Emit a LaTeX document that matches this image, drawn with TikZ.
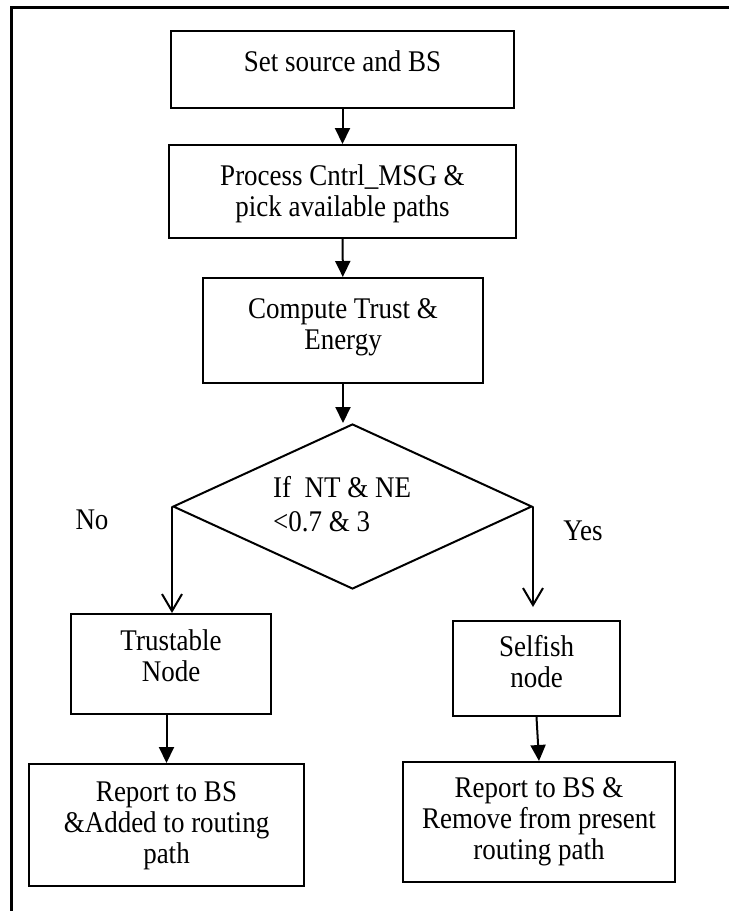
\documentclass[tikz,border=0pt]{standalone}
\usepackage{fontspec}
\setmainfont{Liberation Serif}[FakeStretch=0.9]
\usetikzlibrary{shapes.geometric,arrows.meta}
\begin{document}
\begin{tikzpicture}[x=1pt,y=-1pt,
    every node/.style={font=\fontsize{30pt}{31pt}\selectfont},
    box/.style 2 args={draw,line width=2pt,align=center,inner sep=0pt,text height=#1,text depth=#2},
    flow/.style={line width=2pt,-{Triangle[length=16pt,width=15pt]}},
    branch/.style={line width=2pt,-{Straight Barb[length=17pt,width=20pt]}}]
  \useasboundingbox (0,0) rectangle (729,911);
  % Frame
  \draw[line width=3pt] (11,911) -- (11,7) -- (729,7);
  % Steps
  \node[box={20pt}{17pt},minimum width=343pt,minimum height=77pt] (set) at (342.5,69.5) {Set source and BS};
  \node[box={51pt}{2pt},minimum width=347pt,minimum height=93pt] (proc) at (342.5,191.5) {Process Cntrl\_MSG \&\\pick available paths};
  \node[box={51pt}{13pt},minimum width=280pt,minimum height=105pt] (comp) at (343,330.5) {Compute Trust \&\\Energy};
  % Decision
  \node[draw,diamond,aspect=2.2,line width=2pt,inner sep=0pt,minimum width=359pt,minimum height=165pt] (dec) at (352.5,506.5) {};
  \node[anchor=base west,inner sep=0pt,align=left] (cond) at (273,531) {If\ \ NT \& NE\\[3pt]<0.7 \& 3};
  \node (no) at (92,520) {No};
  \node (yes) at (583,531) {Yes};
  % Outcomes
  \node[box={51pt}{16pt},minimum width=200pt,minimum height=100pt] (trust) at (171,664) {Trustable\\Node};
  \node[box={51pt}{13pt},minimum width=167pt,minimum height=95pt] (self) at (536.5,668.5) {Selfish\\node};
  \node[box={82pt}{5pt},minimum width=275pt,minimum height=122pt] (addbs) at (166.5,825) {Report to BS\\\&Added to routing\\path};
  \node[box={82pt}{8pt},minimum width=272pt,minimum height=120pt] (rembs) at (539,822) {Report to BS \&\\Remove from present\\routing path};
  % Edges
  \draw[flow] (set) -- (proc);
  \draw[flow] (proc) -- (comp);
  \draw[flow] (comp.south) -- (comp.south |- dec.north);
  \draw[branch] (dec.west) -- (dec.west |- trust.north);
  \draw[branch,shorten >=13pt] (dec.east) -- (dec.east |- self.north);
  \draw[flow] (addbs.north |- trust.south) -- (addbs.north);
  \draw[flow] (self.south) -- (rembs.north);
\end{tikzpicture}
\end{document}
